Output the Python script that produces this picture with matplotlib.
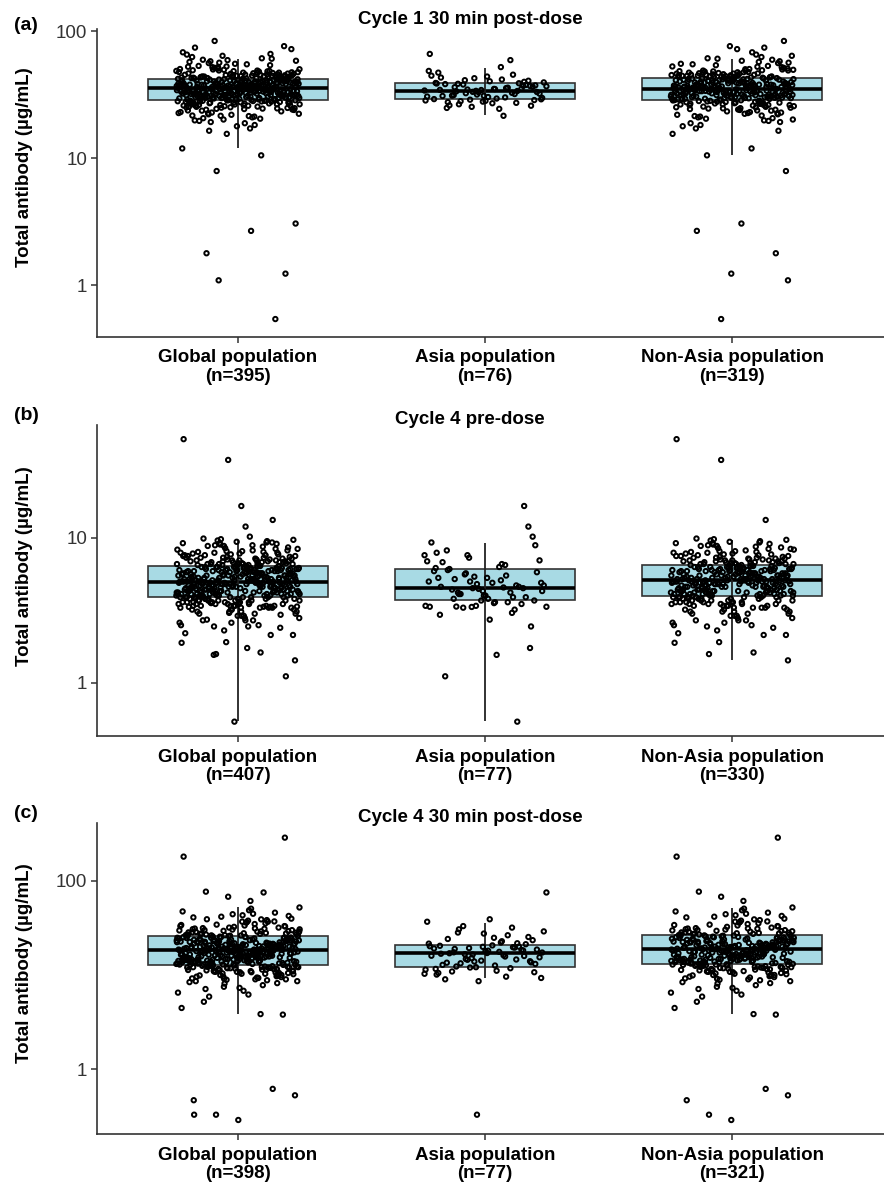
import numpy as np
import matplotlib.pyplot as plt
from matplotlib.ticker import NullLocator

plt.rcParams['font.family'] = ['Liberation Sans', 'DejaVu Sans']

groups = ["Global population", "Asia population", "Non-Asia population"]
titles = ["Cycle 1 30 min post-dose", "Cycle 4 pre-dose", "Cycle 4 30 min post-dose"]
tags = ["(a)", "(b)", "(c)"]

# ---- Cycle 1 30 min post-dose (ug/mL)
c1_asia = [33.2, 28.4, 41.5, 36.1, 25.8, 30.9, 38.6, 45.3, 32.4, 29.7,
           34.9, 27.5, 39.8, 31.6, 66.0, 35.5, 26.5, 37.3, 30.2, 43.0,
           33.7, 28.8, 36.7, 24.4, 31.0, 40.6, 34.3, 29.1, 59.0, 37.9,
           32.1, 27.0, 38.2, 35.2, 42.5, 30.5, 21.5, 33.5, 36.4, 28.2,
           47.0, 31.9, 34.6, 39.4, 29.4, 26.0, 37.6, 32.9, 44.5, 35.8,
           28.0, 33.1, 40.2, 30.8, 38.8, 25.3, 34.0, 52.0, 31.3, 36.9,
           27.8, 39.0, 32.6, 41.0, 29.0, 35.0, 24.8, 37.0, 33.8, 48.5,
           30.0, 38.4, 28.6, 43.8, 34.4, 27.2]
c1_nonasia = [31.2, 24.5, 38.7, 47.3, 26.8, 33.9, 41.2, 52.6, 29.5, 36.4,
              22.1, 44.8, 34.2, 27.6, 39.5, 30.7, 58.3, 21.4, 37.8, 32.5,
              46.1, 25.9, 35.6, 29.9, 43.7, 40.3, 19.8, 33.1, 49.5, 36.9,
              28.1, 31.8, 42.1, 55.2, 23.7, 34.7, 38.1, 45.9, 30.2, 26.2,
              0.54, 37.2, 33.4, 48.8, 27.3, 40.8, 29.3, 62.4, 35.9, 24.9,
              41.7, 30.5, 20.6, 44.2, 36.1, 32.9, 27.9, 51.3, 39.1, 34.5,
              25.3, 46.7, 31.5, 38.4, 18.2, 42.6, 33.7, 29.1, 57.1, 35.3,
              1.09, 39.8, 30.9, 43.3, 26.5, 36.7, 32.2, 47.9, 22.8, 41.5,
              34.9, 27.1, 53.8, 37.5, 29.7, 44.6, 31.1, 23.3, 40.1, 65.2,
              33.3, 38.9, 24.1, 45.4, 30.3, 35.1, 28.4, 50.2, 42.4, 16.4,
              1.23, 36.3, 31.9, 48.1, 26.1, 39.3, 34.1, 43.9, 29.6, 21.9,
              37.9, 45.1, 32.7, 27.4, 41.9, 30.1, 60.5, 25.6, 35.7, 33.6,
              1.78, 40.6, 29.2, 46.4, 34.4, 38.2, 23.9, 54.7, 31.4, 36.6,
              28.6, 43.1, 35.4, 19.2, 42.8, 32.3, 49.1, 26.9, 39.6, 30.8,
              2.67, 37.4, 33.2, 44.9, 27.7, 40.5, 31.6, 72.0, 24.3, 36.2,
              35.8, 29.4, 47.6, 38.6, 22.5, 43.5, 32.0, 28.3, 41.1, 56.3,
              3.05, 34.6, 30.4, 45.7, 25.1, 39.0, 33.8, 51.9, 27.0, 37.0,
              42.3, 31.3, 20.1, 48.5, 36.8, 29.8, 40.9, 26.4, 34.0, 44.0,
              7.9, 38.5, 32.6, 53.1, 28.9, 35.5, 23.0, 46.9, 41.4, 30.0,
              36.5, 27.2, 43.6, 33.0, 39.7, 17.1, 59.4, 31.7, 29.0, 45.2,
              10.5, 40.0, 34.8, 47.0, 25.8, 37.6, 30.6, 42.0, 21.2, 35.0,
              32.8, 44.4, 28.0, 38.0, 50.7, 24.7, 36.0, 29.2, 41.6, 33.5,
              11.9, 39.2, 31.0, 46.2, 27.5, 42.9, 34.3, 63.8, 22.3, 37.7,
              35.2, 30.9, 48.3, 25.0, 40.4, 32.1, 44.7, 18.8, 38.3, 28.7,
              15.5, 36.9, 33.6, 55.9, 29.9, 41.3, 26.7, 45.6, 34.7, 31.5,
              39.4, 23.6, 43.0, 32.4, 37.1, 20.4, 49.8, 30.2, 35.6, 74.0,
              27.8, 41.8, 34.2, 46.5, 24.0, 38.8, 31.2, 52.3, 28.2, 36.4,
              33.9, 42.2, 19.6, 44.1, 30.7, 37.3, 25.4, 57.8, 40.2, 32.9,
              21.6, 35.9, 29.6, 47.4, 38.1, 33.1, 27.6, 43.8, 36.6, 61.0,
              83.5, 31.9, 26.0, 40.7, 34.5, 45.0, 22.6, 39.9, 30.4, 76.0,
              17.8, 37.8, 32.3, 48.9, 28.5, 35.4, 43.2, 24.6, 41.0, 68.0,
              29.3, 36.2, 33.0, 44.3, 26.3, 39.6, 31.4, 50.0, 20.9]

# ---- Cycle 4 pre-dose
c4pre_asia = [4.5, 3.4, 6.6, 5.2, 2.45, 4.0, 7.9, 3.9, 5.7, 4.3,
              3.6, 6.0, 16.6, 4.8, 3.35, 5.5, 4.1, 8.9, 3.8, 4.6,
              0.54, 5.0, 3.35, 6.3, 4.4, 11.97, 3.7, 5.9, 4.2, 3.3,
              7.0, 4.9, 1.11, 3.5, 5.4, 6.9, 4.55, 3.36, 10.2, 4.0,
              5.3, 3.2, 7.6, 4.7, 1.56, 6.1, 3.9, 4.45, 9.3, 3.6,
              4.1, 5.8, 2.73, 6.8, 4.6, 3.34, 7.6, 5.1, 3.8, 1.74,
              4.3, 6.2, 3.04, 5.6, 4.9, 3.55, 8.2, 4.5, 3.4, 5.0,
              6.5, 4.2, 3.7, 5.3, 2.95, 4.7, 7.3]
c4pre_nonasia = [4.6, 3.5, 7.2, 5.8, 3.1, 4.3, 8.1, 6.0, 4.9, 3.8,
                 5.5, 2.9, 6.9, 4.1, 9.2, 5.0, 3.6, 6.3, 4.4, 7.7,
                 48.0, 3.3, 5.9, 4.7, 6.7, 3.9, 5.2, 8.8, 4.2, 2.7,
                 6.1, 4.8, 3.4, 7.5, 5.4, 4.0, 9.7, 5.7, 3.7, 4.5,
                 34.5, 2.5, 6.4, 4.9, 5.3, 7.0, 3.2, 5.9, 4.3, 8.4,
                 5.1, 3.9, 6.8, 4.6, 2.2, 5.6, 7.9, 4.1, 6.2, 3.5,
                 13.3, 4.8, 5.5, 3.0, 6.6, 4.4, 9.4, 5.2, 3.8, 6.0,
                 1.43, 5.0, 7.3, 4.2, 5.8, 3.6, 6.5, 4.7, 8.6, 3.3,
                 5.4, 4.0, 6.9, 2.8, 5.1, 7.6, 4.5, 6.3, 3.9, 4.9,
                 1.58, 5.7, 4.3, 8.0, 3.4, 6.1, 5.0, 7.1, 4.6, 3.7,
                 6.7, 4.1, 5.3, 9.0, 3.1, 5.9, 4.8, 6.4, 2.6, 5.2,
                 1.62, 4.4, 7.4, 5.6, 3.8, 6.0, 4.9, 8.3, 4.2, 5.5,
                 3.5, 6.2, 4.7, 5.1, 9.6, 3.2, 5.8, 4.0, 7.0, 4.6,
                 1.89, 5.4, 6.6, 4.3, 3.6, 7.8, 5.0, 4.8, 6.1, 3.9,
                 5.2, 2.4, 6.8, 4.5, 5.7, 8.9, 3.3, 6.3, 4.1, 5.0,
                 1.91, 4.9, 7.2, 3.7, 5.5, 6.0, 4.4, 9.3, 5.3, 3.0,
                 6.5, 4.2, 5.9, 3.4, 7.5, 4.7, 5.1, 6.9, 2.9, 4.6,
                 2.14, 5.6, 4.0, 8.2, 3.8, 6.2, 5.4, 4.3, 7.3, 4.9,
                 2.14, 6.4, 5.0, 4.5, 3.5, 7.9, 5.8, 4.1, 6.7, 3.6,
                 5.3, 3.9, 9.8, 4.8, 6.1, 2.7, 5.2, 7.0, 4.4, 5.7,
                 2.45, 4.6, 6.6, 5.1, 3.3, 8.5, 4.2, 6.0, 4.9, 3.9,
                 5.9, 4.3, 7.6, 3.7, 5.5, 6.3, 4.7, 9.1, 3.1, 5.0,
                 2.5, 6.8, 4.0, 5.4, 3.6, 7.1, 4.8, 6.2, 5.2, 4.4,
                 6.0, 3.4, 5.8, 8.7, 4.1, 5.1, 2.8, 6.5, 4.6, 7.4,
                 2.6, 5.3, 4.5, 6.9, 3.8, 5.6, 9.5, 4.3, 6.1, 3.5,
                 4.9, 7.7, 3.2, 5.0, 6.4, 4.2, 5.7, 8.1, 3.9, 4.7,
                 2.3, 6.6, 5.2, 4.4, 7.2, 3.7, 5.9, 4.0, 6.3, 5.4,
                 4.8, 3.0, 8.4, 5.5, 4.1, 6.7, 3.6, 5.1, 7.8, 4.6,
                 3.3, 5.8, 4.3, 6.2, 9.9, 4.9, 5.3, 3.9, 6.8, 4.5,
                 5.6, 2.9, 7.0, 4.2, 6.0, 3.5, 5.0, 8.8, 4.7, 6.4,
                 3.8, 5.4, 4.0, 7.5, 5.2, 3.4, 6.1, 4.8, 9.2, 5.7,
                 4.4, 6.9, 3.1, 5.9, 4.6, 7.3, 3.7, 5.5, 6.3, 4.1,
                 5.1, 3.6, 8.0, 4.9, 6.6, 2.7, 5.3, 4.3, 7.1, 3.9]

# ---- Cycle 4 30 min post-dose
c4post_asia = [16.5, 11.4, 22.8, 18.9, 13.6, 27.5, 10.1, 19.7, 14.8, 17.3,
               12.6, 24.1, 15.9, 0.33, 20.2, 9.6, 30.5, 13.1, 18.1, 16.8,
               21.7, 12.0, 75.0, 17.6, 10.9, 25.3, 14.2, 19.1, 11.8, 33.0,
               15.4, 20.6, 9.0, 18.4, 13.9, 36.7, 16.2, 12.3, 23.4, 17.9,
               10.5, 19.5, 14.5, 29.0, 11.1, 17.0, 21.2, 8.6, 16.0, 26.4,
               13.3, 18.6, 39.0, 12.8, 20.0, 15.1, 10.3, 22.1, 17.4, 14.0,
               19.9, 11.6, 31.8, 16.6, 9.3, 24.8, 13.5, 18.2, 12.1, 21.5,
               15.7, 28.2, 10.7, 17.1, 20.4, 14.6, 19.3]
c4post_nonasia = [17.2, 10.8, 24.1, 33.5, 14.6, 21.0, 8.9, 29.7, 16.1, 12.4,
                  286.0, 19.8, 13.7, 38.2, 11.3, 22.7, 15.9, 27.4, 9.8, 18.0,
                  180.0, 14.2, 25.6, 12.0, 20.3, 31.1, 16.8, 7.5, 23.2, 44.6,
                  76.5, 18.5, 11.7, 26.9, 15.3, 21.8, 10.2, 35.9, 13.4, 19.4,
                  67.6, 16.4, 28.8, 12.7, 23.9, 14.9, 9.2, 20.7, 41.5, 17.7,
                  61.0, 13.0, 22.2, 30.3, 15.6, 19.1, 11.0, 25.0, 6.8, 17.9,
                  0.62, 20.9, 14.1, 34.7, 12.2, 24.5, 16.3, 8.4, 27.9, 18.8,
                  0.53, 15.0, 23.6, 11.5, 21.4, 47.2, 13.8, 19.6, 10.5, 26.2,
                  0.47, 17.4, 12.9, 29.1, 16.6, 22.5, 9.5, 32.4, 14.4, 20.1,
                  0.33, 19.3, 25.3, 13.2, 37.0, 11.9, 18.2, 15.4, 5.9, 23.0,
                  0.29, 14.8, 21.6, 10.0, 27.0, 17.0, 12.5, 31.8, 16.0, 19.0,
                  3.85, 22.9, 15.2, 43.0, 13.5, 20.5, 8.1, 24.8, 18.3, 11.2,
                  3.8, 16.9, 28.3, 12.3, 21.2, 14.0, 36.4, 9.9, 19.9, 25.7,
                  4.47, 18.6, 13.9, 23.4, 10.7, 30.6, 15.7, 20.0, 12.1, 50.5,
                  5.2, 21.1, 17.5, 26.5, 11.4, 16.2, 39.6, 14.3, 22.4, 18.1,
                  13.6, 24.2, 9.0, 19.2, 33.0, 15.1, 12.8, 22.0, 17.3, 28.1,
                  6.2, 15.8, 20.4, 11.8, 25.2, 18.4, 14.5, 42.3, 10.3, 21.7,
                  16.5, 29.4, 13.1, 23.7, 7.1, 19.5, 12.6, 26.0, 17.8, 34.2,
                  11.1, 20.8, 15.5, 45.8, 14.7, 22.6, 9.4, 18.7, 27.6, 16.0,
                  19.7, 12.0, 25.1, 8.6, 17.1, 31.4, 13.3, 21.3, 15.0, 38.9,
                  10.9, 23.1, 16.7, 28.6, 12.4, 19.0, 6.5, 24.4, 14.2, 20.2,
                  18.9, 14.6, 35.3, 11.6, 21.5, 16.1, 27.2, 9.7, 22.8, 13.7,
                  15.3, 26.3, 12.2, 19.8, 40.8, 17.6, 10.4, 23.3, 14.9, 30.0,
                  20.6, 13.0, 24.7, 7.8, 18.3, 29.9, 15.8, 22.1, 11.5, 17.2,
                  12.9, 21.9, 16.4, 32.7, 14.1, 19.4, 8.8, 25.5, 13.8, 48.6,
                  17.6, 10.1, 23.8, 15.6, 27.3, 12.7, 20.0, 36.8, 14.0, 18.5,
                  9.1, 22.3, 16.9, 26.8, 13.4, 19.6, 11.3, 30.9, 15.2, 21.0,
                  14.5, 24.0, 10.6, 18.0, 33.9, 16.3, 12.5, 22.9, 7.3, 28.4,
                  19.1, 13.9, 25.9, 11.0, 20.7, 15.4, 44.1, 17.0, 12.2, 23.5,
                  16.8, 27.7, 9.6, 21.4, 14.8, 18.6, 31.2, 13.2, 24.9, 10.8,
                  22.4, 15.7, 19.2, 12.8, 37.7, 17.5, 8.2, 26.1, 14.3, 20.3,
                  13.5, 29.2, 16.2, 23.6, 11.9, 18.8, 52.0, 15.1, 21.8, 10.0,
                  17.9]

# box summaries as drawn (Global, Asia, Non-Asia)
c1_q1 = [28.8, 29.2, 28.8]
c1_med = [35.7, 33.8, 35.0]
c1_q3 = [42.0, 39.0, 42.8]
c1_lo = [11.9, 22.0, 10.5]
c1_hi = [60.0, 51.0, 60.0]

c4pre_q1 = [3.92, 3.73, 4.0]
c4pre_med = [5.0, 4.52, 5.13]
c4pre_q3 = [6.44, 6.1, 6.5]
c4pre_lo = [0.55, 0.55, 1.44]
c4pre_hi = [9.7, 9.2, 9.7]

c4post_q1 = [12.8, 12.2, 13.1]
c4post_med = [18.4, 17.0, 18.9]
c4post_q3 = [26.2, 20.8, 26.5]
c4post_lo = [3.85, 9.3, 3.85]
c4post_hi = [52.0, 35.9, 51.0]

panels = [
    (c1_asia, c1_nonasia, c1_q1, c1_med, c1_q3, c1_lo, c1_hi),
    (c4pre_asia, c4pre_nonasia, c4pre_q1, c4pre_med, c4pre_q3, c4pre_lo, c4pre_hi),
    (c4post_asia, c4post_nonasia, c4post_q1, c4post_med, c4post_q3, c4post_lo, c4post_hi),
]

W, H = 884, 1190
# axes extents in pixels (top, bottom), y limits and ticks per panel
ax_px = [(29, 337), (425, 736), (823, 1134)]
ylims = [(0.39, 103.7), (0.43, 60.1), (0.206, 409)]
yticks = [[1, 10, 100], [1, 10], [1, 100]]
tag_y = [26, 415, 813]
title_y = [20, 419, 817]
ylab_y = [167, 566, 963]

box_col = '#A8DAE4'
line_col = '#333333'


def jitter(n, phase):
    # deterministic spread of points across the box
    return ((np.arange(n) * 0.618034 + phase) % 1.0 - 0.5) * 0.5


fig = plt.figure(figsize=(W / 100, H / 100), dpi=100)

for k, (asia, nonasia, q1, med, q3, lo, hi) in enumerate(panels):
    top, bot = ax_px[k]
    ax = fig.add_axes([97 / W, 1 - bot / H, (W - 97) / W, (bot - top) / H])
    series = [asia + nonasia, asia, nonasia]

    stats = [dict(med=med[i], q1=q1[i], q3=q3[i], whislo=lo[i], whishi=hi[i], fliers=[])
             for i in range(3)]
    ax.bxp(stats, positions=[0, 1, 2], widths=0.73, patch_artist=True,
           showfliers=False, showcaps=False,
           boxprops=dict(facecolor=box_col, edgecolor=line_col, linewidth=1.2),
           medianprops=dict(color='black', linewidth=2.6),
           whiskerprops=dict(linewidth=0), zorder=1)
    ax.vlines([0, 1, 2], lo, hi, color='#222222', lw=1.3, zorder=2)

    for i, vals in enumerate(series):
        x = i + jitter(len(vals), 0.11 + 0.29 * i)
        ax.scatter(x, vals, s=10, facecolors='none', edgecolors='black',
                   linewidths=1.4, zorder=3)

    ax.set_yscale('log')
    ax.set_ylim(*ylims[k])
    ax.set_xlim(-0.571, 2.615)
    ax.yaxis.set_minor_locator(NullLocator())
    ax.set_yticks(yticks[k])
    ax.set_yticklabels([str(t) for t in yticks[k]], fontsize=13.5, color='#333333')
    ax.set_xticks([0, 1, 2])
    ns = [len(s) for s in series]
    ax.set_xticklabels([f"{g}\n(n={n})" for g, n in zip(groups, ns)],
                       fontsize=13.5, fontweight='bold', linespacing=1.15)
    ax.tick_params(axis='both', length=4, width=1.1, color=line_col, pad=3)
    ax.tick_params(axis='x', pad=5)
    for s in ['top', 'right']:
        ax.spines[s].set_visible(False)
    for s in ['left', 'bottom']:
        ax.spines[s].set_color(line_col)
        ax.spines[s].set_linewidth(1.2)

    fig.text(14 / W, 1 - tag_y[k] / H, tags[k], fontsize=14, fontweight='bold',
             ha='left', va='center')
    fig.text(470 / W, 1 - title_y[k] / H, titles[k], fontsize=13.5, fontweight='bold',
             ha='center', va='center')
    fig.text(25 / W, 1 - ylab_y[k] / H, "Total antibody (µg/mL)", fontsize=13.5,
             fontweight='bold', rotation=90, ha='center', va='center')

fig.savefig('out.png', dpi=100)
